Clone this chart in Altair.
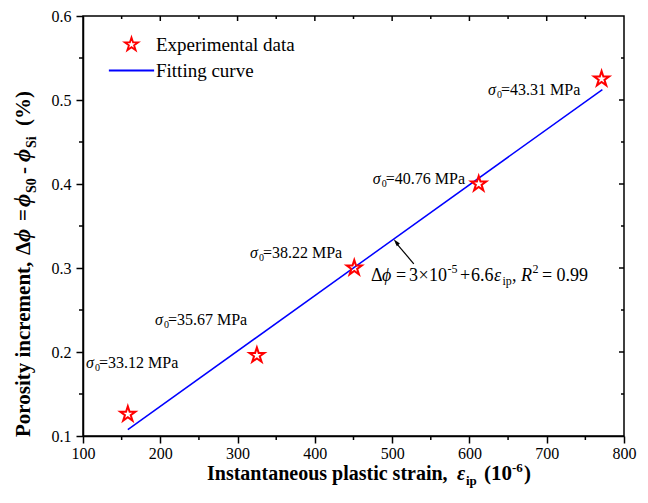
import altair as alt
import pandas as pd

# ---------------- data ----------------
exp_x = [158, 325, 451, 612, 771]
exp_y = [0.126, 0.196, 0.300, 0.400, 0.525]

fit_x = [158, 772]
fit_y = [0.1076, 0.5124]

series_names = ["Experimental data", "Fitting curve"]

sigma_vals = ["33.12", "35.67", "38.22", "40.76", "43.31"]
sigma_x = [104, 193, 316, 475, 624]
sigma_y = [0.187, 0.238, 0.318, 0.406, 0.5115]

eq_x = [472.6]
eq_y = [0.290]

arrow_x = [528, 505]
arrow_y = [0.305, 0.330]
head_x = [505.8]
head_y = [0.330]

x_major = [100, 200, 300, 400, 500, 600, 700, 800]
x_minor = [150, 250, 350, 450, 550, 650, 750]
y_major = [0.1, 0.2, 0.3, 0.4, 0.5, 0.6]
y_minor = [0.15, 0.25, 0.35, 0.45, 0.55]

FONT = "Liberation Serif"
W, H = 541, 420

STAR = ("M0,-1L0.2245,-0.309L0.951,-0.309L0.363,0.118L0.588,0.809L0,0.382"
        "L-0.588,0.809L-0.363,0.118L-0.951,-0.309L-0.2245,-0.309Z")
STROKE = "M-3.2,0L3.2,0"

xscale = alt.Scale(domain=[100, 800], nice=False, zero=False)
yscale = alt.Scale(domain=[0.1, 0.6], nice=False, zero=False)

common_axis = dict(
    grid=False, title=None, labelFlush=False,
    labelFont=FONT, labelFontSize=16, labelColor="black",
    tickSize=7, tickWidth=1.5, tickColor="black",
    domainColor="black", domainWidth=1.5,
)
xaxis = alt.Axis(values=x_major, format="d", labelPadding=2, **common_axis)
yaxis = alt.Axis(values=y_major, format=".1f", labelPadding=5, **common_axis)

X = lambda: alt.X("x:Q", scale=xscale, axis=xaxis)
Y = lambda: alt.Y("y:Q", scale=yscale, axis=yaxis)

cscale = alt.Scale(domain=series_names, range=["#ff0000", "#0000ff"])
sscale = alt.Scale(domain=series_names, range=[STAR, STROKE])
leg = alt.Legend(
    orient="none", legendX=39, legendY=19, title=None,
    labelFont=FONT, labelFontSize=19, labelColor="black", labelOffset=15,
    symbolSize=200, symbolStrokeWidth=1.8, symbolOpacity=1,
    rowPadding=6, padding=0,
)

df_exp = pd.DataFrame({"x": exp_x, "y": exp_y, "series": series_names[0]})
df_fit = pd.DataFrame({"x": fit_x, "y": fit_y, "series": series_names[1]})

fit_line = alt.Chart(df_fit).mark_line(strokeWidth=1.5).encode(
    x=X(), y=Y(),
    color=alt.Color("series:N", scale=cscale, legend=leg),
)

points = alt.Chart(df_exp).mark_point(
    filled=False, size=250, strokeWidth=2, opacity=1
).encode(
    x=X(), y=Y(),
    color=alt.Color("series:N", scale=cscale, legend=leg),
    shape=alt.Shape("series:N", scale=sscale, legend=leg),
)

# sigma annotations
df_sig = pd.DataFrame({
    "x": sigma_x, "y": sigma_y,
    "lab": ["=" + v + " MPa" for v in sigma_vals],
})
sig_base = alt.Chart(df_sig).encode(x=X(), y=Y())
sig1 = sig_base.mark_text(text="σ", align="left", baseline="middle", font=FONT,
                          fontSize=16, fontStyle="italic", color="black")
sig2 = sig_base.mark_text(text="0", align="left", baseline="middle", font=FONT,
                          fontSize=10, dx=9, dy=5, color="black")
sig3 = sig_base.mark_text(align="left", baseline="middle", font=FONT,
                          fontSize=16, dx=13, color="black").encode(text="lab:N")

# equation
df_eq = pd.DataFrame({"x": eq_x, "y": eq_y})
eq_base = alt.Chart(df_eq).encode(x=X(), y=Y())
segments = [
    ("Δ", 0, 0, 18, "normal"),
    ("ϕ", 11, 0, 18, "italic"),
    ("=", 25, 0, 18, "normal"),
    ("3", 38, 0, 18, "normal"),
    ("×", 47.5, 0, 18, "normal"),
    ("10", 58, 0, 18, "normal"),
    ("-5", 76.5, -7, 12, "normal"),
    ("+", 89, 0, 18, "normal"),
    ("6.6", 100, 0, 18, "normal"),
    ("ε", 123, 0, 18, "italic"),
    ("ip", 131.5, 5, 12, "normal"),
    (",", 141, 0, 18, "normal"),
    ("R", 150, 0, 18, "italic"),
    ("2", 161.5, -7, 12, "normal"),
    ("=", 171, 0, 18, "normal"),
    ("0.99", 185.5, 0, 18, "normal"),
]
eq_layers = [
    eq_base.mark_text(text=t, align="left", baseline="middle", font=FONT,
                      fontSize=fs, fontStyle=st, dx=dx, dy=dy, color="black")
    for (t, dx, dy, fs, st) in segments
]

# arrow
df_arrow = pd.DataFrame({"x": arrow_x, "y": arrow_y})
arrow = alt.Chart(df_arrow).mark_line(color="black", strokeWidth=1.2).encode(x=X(), y=Y())
df_head = pd.DataFrame({"x": head_x, "y": head_y})
head = alt.Chart(df_head).mark_point(
    shape="M0,-1L0.45,0.6L-0.45,0.6Z", size=80, filled=True, color="black",
    angle=320, opacity=1,
).encode(x=X(), y=Y())

# minor and mirrored ticks
df_xmin = pd.DataFrame({"x": x_minor})
df_xall = pd.DataFrame({"x": x_major[1:-1]})
df_ymin = pd.DataFrame({"y": y_minor})
df_yall = pd.DataFrame({"y": y_major[1:-1]})

tk = dict(color="black", strokeWidth=1.5)
bot_minor = alt.Chart(df_xmin).mark_rule(**tk).encode(x=X(), y=alt.value(H), y2=alt.value(H + 4))
left_minor = alt.Chart(df_ymin).mark_rule(**tk).encode(y=Y(), x=alt.value(0), x2=alt.value(-4))
top_major = alt.Chart(df_xall).mark_rule(**tk).encode(x=X(), y=alt.value(0), y2=alt.value(5))
top_minor = alt.Chart(df_xmin).mark_rule(**tk).encode(x=X(), y=alt.value(0), y2=alt.value(3))
right_major = alt.Chart(df_yall).mark_rule(**tk).encode(y=Y(), x=alt.value(W), x2=alt.value(W - 5))
right_minor = alt.Chart(df_ymin).mark_rule(**tk).encode(y=Y(), x=alt.value(W), x2=alt.value(W - 3))

# axis titles composed of text pieces (for real sub/superscripts)
one = pd.DataFrame({"k": [0]})
xt_pieces = [
    ("Instantaneous plastic strain,", 0, 0, 20, "normal"),
    ("ε", 250, 0, 20, "italic"),
    ("ip", 259, 5, 13, "normal"),
    ("(10", 277, 0, 21, "normal"),
    ("-6", 305, -8, 13, "normal"),
    (")", 317, 0, 21, "normal"),
]
x_title = [
    alt.Chart(one).mark_text(text=t, align="left", baseline="alphabetic", font=FONT,
                             fontSize=fs, fontWeight="bold", fontStyle=st,
                             dx=dx, dy=dy, color="black")
    .encode(x=alt.value(124), y=alt.value(464))
    for (t, dx, dy, fs, st) in xt_pieces
]
yt_pieces = [
    ("Porosity increment,", 0, 0, 21, "normal"),
    ("Δ", 182, 0, 21, "normal"),
    ("ϕ", 195, 0, 23, "italic"),
    ("=", 216, 0, 21, "normal"),
    ("ϕ", 230, 0, 23, "italic"),
    ("S0", 244, 6, 14, "normal"),
    ("-", 263, 0, 21, "normal"),
    ("ϕ", 275, 0, 23, "italic"),
    ("Si", 289, 6, 14, "normal"),
    ("(%)", 311, 0, 21, "normal"),
]
y_title = [
    alt.Chart(one).mark_text(text=t, align="left", baseline="alphabetic", font=FONT,
                             fontSize=fs, fontWeight="bold", fontStyle=st,
                             dx=dx, dy=dy, angle=270, color="black")
    .encode(x=alt.value(-53), y=alt.value(421))
    for (t, dx, dy, fs, st) in yt_pieces
]

chart = alt.layer(
    bot_minor, left_minor, top_major, top_minor, right_major, right_minor,
    fit_line, points, sig1, sig2, sig3, *eq_layers, arrow, head,
    *x_title, *y_title,
).properties(
    width=W, height=H,
    autosize=alt.AutoSizeParams(type="none"),
    padding={"left": 83, "top": 16, "right": 24, "bottom": 67},
    background="white",
).configure_view(
    stroke="black", strokeWidth=1.5,
).resolve_scale(color="shared", shape="shared")

chart.save("out.html", embed_options={"renderer": "svg", "actions": False})
